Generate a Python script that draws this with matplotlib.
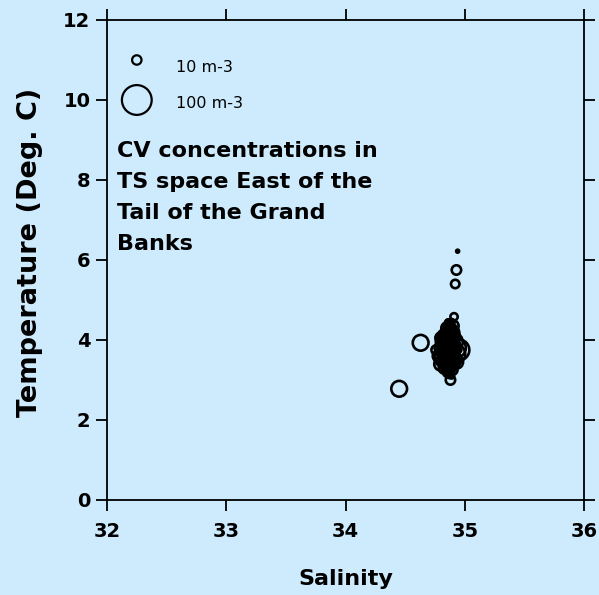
import matplotlib.pyplot as plt

plt.rcParams['font.family'] = ['DejaVu Sans']

bg = '#cdebfd'

# CV stations: salinity, temperature (deg C), concentration (m-3)
salinity = [34.45, 34.63, 34.88, 34.93, 34.92, 34.94, 34.91,
            34.80, 34.82, 34.84, 34.85, 34.86, 34.87, 34.88, 34.90,
            34.83, 34.86, 34.88, 34.90, 34.92, 34.93, 34.91, 34.89,
            34.78, 34.79, 34.81, 34.83, 34.85, 34.87, 34.84, 34.87,
            34.89, 34.88, 34.86, 34.82, 34.95, 34.90, 34.91, 34.76,
            34.80, 34.93,
            34.78, 34.80, 34.80, 34.82, 34.82, 34.84, 34.84, 34.84,
            34.86, 34.86, 34.86, 34.86, 34.88, 34.88, 34.88, 34.88,
            34.90, 34.90, 34.90, 34.90, 34.92, 34.92, 34.92, 34.94,
            34.94, 34.83, 34.85, 34.87, 34.89, 34.81, 34.86, 34.89,
            34.79, 34.79, 34.79, 34.81, 34.81, 34.81, 34.81,
            34.83, 34.83, 34.83, 34.83, 34.83,
            34.85, 34.85, 34.85, 34.85, 34.85, 34.85, 34.85,
            34.87, 34.87, 34.87, 34.87, 34.87, 34.87, 34.87,
            34.89, 34.89, 34.89, 34.89, 34.89, 34.89,
            34.91, 34.91, 34.91, 34.91, 34.93, 34.93, 34.93, 34.93,
            34.95, 34.95]
temperature = [2.78, 3.93, 3.00, 5.75, 5.40, 6.22, 4.58,
               3.40, 3.55, 3.70, 3.85, 4.00, 4.15, 4.25, 4.35,
               3.30, 3.20, 3.35, 3.50, 3.65, 3.80, 3.95, 4.10,
               3.60, 3.80, 3.95, 4.10, 4.30, 4.40, 3.45, 3.60,
               3.75, 3.90, 3.75, 3.85, 3.75, 3.25, 4.20, 3.75,
               4.05, 3.45,
               3.50, 3.65, 3.90, 3.70, 4.00, 3.55, 3.85, 4.20,
               3.40, 3.60, 3.90, 4.10, 3.50, 3.70, 4.00, 4.30,
               3.40, 3.60, 3.85, 4.05, 3.50, 3.75, 4.00, 3.60,
               3.90, 3.35, 3.25, 3.15, 3.20, 4.15, 4.45, 4.45,
               3.45, 3.75, 4.00, 3.35, 3.55, 3.80, 4.05,
               3.25, 3.45, 3.65, 3.95, 4.25,
               3.15, 3.35, 3.50, 3.70, 3.95, 4.15, 4.35,
               3.10, 3.30, 3.45, 3.70, 3.85, 4.05, 4.25,
               3.10, 3.30, 3.60, 3.95, 4.20, 4.35,
               3.30, 3.70, 3.95, 4.15, 3.35, 3.55, 3.85, 4.10,
               3.50, 3.75]
concentration = [28, 28, 10, 10, 8, 1, 6,
                 20, 35, 25, 40, 30, 25, 20, 15,
                 15, 12, 18, 30, 45, 40, 35, 30,
                 15, 12, 18, 20, 14, 10, 22, 28,
                 33, 26, 40, 16, 50, 10, 12, 10,
                 14, 20,
                 4, 5, 4, 6, 5, 4, 6, 4,
                 5, 6, 5, 4, 6, 5, 6, 4,
                 5, 4, 6, 5, 4, 5, 4, 3,
                 3, 4, 3, 4, 3, 3, 3, 4,
                 2, 3, 2, 3, 2, 3, 2,
                 2, 3, 2, 3, 2,
                 3, 2, 3, 2, 3, 2, 3,
                 2, 3, 2, 3, 2, 3, 2,
                 3, 2, 3, 2, 3, 2,
                 2, 3, 2, 3, 2, 3, 2, 3,
                 2, 3]

legend_conc = [10, 100]
legend_labels = ['10 m-3', '100 m-3']

size_per_unit = 4.6  # marker area (pt^2) per m-3

fig = plt.figure(figsize=(5.99, 5.95), dpi=100, facecolor=bg)
ax = fig.add_axes([0.1786, 0.1597, 0.7964, 0.8067], facecolor=bg)

ax.scatter(salinity, temperature, s=[c * size_per_unit for c in concentration],
           facecolors='none', edgecolors='black', linewidths=1.9, zorder=3)

# size key
key_y = [11.0, 10.0]
ax.scatter([32.25] * 2, key_y, s=[c * size_per_unit for c in legend_conc],
           facecolors='none', edgecolors='black', linewidths=1.6)
for y, lab in zip([10.82, 9.92], legend_labels):
    ax.text(32.58, y, lab, fontsize=11.5, va='center', ha='left')

ax.text(32.08, 8.98, 'CV concentrations in\nTS space East of the\nTail of the Grand\nBanks',
        fontsize=16, fontweight='bold', va='top', ha='left', linespacing=1.7)

ax.set_xlim(32, 36)
ax.set_ylim(0, 12)
ax.set_xticks([32, 33, 34, 35, 36])
ax.set_yticks([0, 2, 4, 6, 8, 10, 12])
ax.tick_params(direction='out', length=8, width=1.3, labelsize=14,
               top=True, right=True, pad=4)
ax.tick_params(axis='x', pad=8)
for lab in ax.get_xticklabels() + ax.get_yticklabels():
    lab.set_fontweight('bold')
for sp in ax.spines.values():
    sp.set_linewidth(1.3)

ax.set_xlabel('Salinity', fontsize=16, fontweight='bold', labelpad=20)
ax.set_ylabel('Temperature (Deg. C)', fontsize=19.5, fontweight='bold')
ax.yaxis.set_label_coords(-0.135, 0.515)

fig.savefig('out.png', dpi=100, facecolor=bg)
